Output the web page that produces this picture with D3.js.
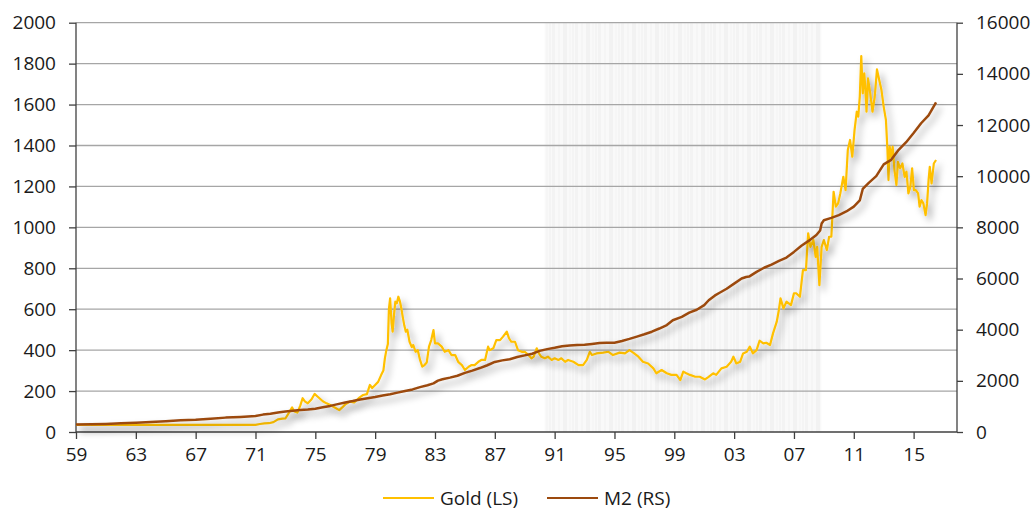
<!DOCTYPE html>
<html>
<head>
<meta charset="utf-8">
<script src="https://cdn.jsdelivr.net/npm/d3@7"></script>
<style>
  body { margin: 0; background: #fff; }
  text { font-family: "Open Sans", "DejaVu Sans", sans-serif; fill: #1a1a1a; }
</style>
</head>
<body>
<script>
// gold price, USD/oz (left scale) - [year, value]
var gold = [
  [1959.0, 35], [1971.0, 35], [1971.3, 39], [1971.6, 42], [1971.9, 43], [1972.2, 48], [1972.5, 62],
  [1972.8, 65], [1973.0, 66], [1973.2, 90], [1973.45, 120], [1973.6, 100], [1973.8, 95], [1974.0, 130],
  [1974.15, 165], [1974.3, 150], [1974.5, 140], [1974.75, 160], [1974.95, 186], [1975.2, 170],
  [1975.5, 150], [1975.75, 140], [1976.0, 132], [1976.3, 120], [1976.6, 107], [1976.8, 120],
  [1977.0, 135], [1977.3, 148], [1977.6, 145], [1977.9, 165], [1978.2, 181], [1978.45, 185],
  [1978.65, 230], [1978.8, 215], [1979.0, 230], [1979.2, 245], [1979.4, 278], [1979.55, 300],
  [1979.65, 360], [1979.75, 400], [1979.85, 430], [1979.92, 600], [1980.0, 653], [1980.1, 530],
  [1980.17, 490], [1980.27, 580], [1980.35, 637], [1980.45, 629], [1980.55, 661], [1980.65, 640],
  [1980.75, 605], [1980.85, 560], [1980.95, 520], [1981.05, 490], [1981.15, 500], [1981.3, 441],
  [1981.45, 415], [1981.55, 425], [1981.7, 392], [1981.85, 400], [1982.0, 352], [1982.15, 319],
  [1982.3, 327], [1982.45, 340], [1982.6, 417], [1982.75, 449], [1982.9, 498], [1983.0, 433],
  [1983.2, 433], [1983.45, 417], [1983.65, 392], [1983.9, 400], [1984.1, 376], [1984.35, 376],
  [1984.55, 343], [1984.8, 327], [1985.0, 303], [1985.25, 319], [1985.45, 327], [1985.65, 327],
  [1985.9, 343], [1986.1, 352], [1986.35, 352], [1986.55, 417], [1986.65, 400], [1986.9, 409],
  [1987.1, 449], [1987.35, 449], [1987.55, 466], [1987.8, 490], [1987.95, 458], [1988.1, 441],
  [1988.35, 441], [1988.55, 400], [1988.8, 392], [1989.0, 392], [1989.25, 376], [1989.45, 360],
  [1989.6, 368], [1989.8, 409], [1989.95, 384], [1990.1, 368], [1990.35, 360], [1990.55, 368],
  [1990.8, 352], [1991.0, 360], [1991.25, 352], [1991.45, 360], [1991.7, 343], [1991.9, 352],
  [1992.25, 343], [1992.6, 327], [1992.9, 327], [1993.15, 352], [1993.35, 392], [1993.5, 376],
  [1993.8, 384], [1994.25, 388], [1994.6, 392], [1994.9, 376], [1995.35, 388], [1995.7, 384],
  [1996.0, 400], [1996.25, 388], [1996.6, 368], [1996.9, 343], [1997.25, 335], [1997.6, 311],
  [1997.8, 287], [1998.15, 303], [1998.5, 287], [1998.8, 279], [1999.15, 279], [1999.4, 254],
  [1999.6, 295], [1999.8, 287], [2000.05, 279], [2000.4, 270], [2000.7, 270], [2001.05, 257],
  [2001.25, 267], [2001.6, 287], [2001.8, 279], [2002.15, 311], [2002.5, 319], [2002.8, 343],
  [2002.95, 368], [2003.15, 335], [2003.4, 343], [2003.6, 384], [2003.85, 392], [2004.05, 417],
  [2004.25, 384], [2004.5, 400], [2004.7, 446], [2004.95, 433], [2005.15, 436], [2005.4, 425],
  [2005.6, 482], [2005.85, 539], [2006.0, 600], [2006.1, 653], [2006.3, 604], [2006.5, 637],
  [2006.8, 620], [2007.0, 678], [2007.15, 678], [2007.4, 661], [2007.6, 791], [2007.8, 791],
  [2007.95, 971], [2008.1, 905], [2008.3, 938], [2008.45, 856], [2008.55, 905], [2008.7, 718],
  [2008.85, 905], [2009.0, 938], [2009.2, 889], [2009.35, 954], [2009.5, 954], [2009.65, 1174],
  [2009.8, 1101], [2009.95, 1117], [2010.1, 1166], [2010.3, 1247], [2010.45, 1182], [2010.6, 1378],
  [2010.75, 1427], [2010.9, 1345], [2011.05, 1475], [2011.2, 1565], [2011.3, 1541], [2011.4, 1638],
  [2011.5, 1837], [2011.6, 1655], [2011.7, 1752], [2011.78, 1671], [2011.85, 1565], [2011.95, 1728],
  [2012.1, 1655], [2012.25, 1565], [2012.4, 1638], [2012.55, 1772], [2012.7, 1720], [2012.85, 1671],
  [2013.0, 1589], [2013.15, 1524], [2013.25, 1378], [2013.32, 1231], [2013.4, 1394], [2013.5, 1345],
  [2013.6, 1394], [2013.72, 1280], [2013.85, 1207], [2013.95, 1320], [2014.1, 1288], [2014.25, 1312],
  [2014.4, 1247], [2014.52, 1272], [2014.65, 1166], [2014.78, 1198], [2014.9, 1288], [2015.02, 1182],
  [2015.15, 1182], [2015.3, 1166], [2015.4, 1101], [2015.52, 1133], [2015.65, 1117], [2015.8, 1060],
  [2015.9, 1117], [2016.0, 1231], [2016.08, 1296], [2016.2, 1215], [2016.35, 1312], [2016.5, 1329]
];

// M2 money stock, USD bn (right scale) - [year, value]
var m2 = [
  [1959.0, 290], [1960.0, 300], [1961.0, 313], [1962.0, 338], [1963.0, 365], [1964.0, 395],
  [1965.0, 425], [1966.0, 458], [1967.0, 478], [1968.0, 522], [1969.0, 562], [1970.0, 588],
  [1971.0, 625], [1971.5, 680], [1972.0, 712], [1972.5, 760], [1973.0, 800], [1973.5, 830],
  [1974.0, 858], [1974.5, 880], [1975.0, 910], [1975.5, 965], [1976.0, 1020], [1976.5, 1090],
  [1977.0, 1155], [1977.5, 1210], [1978.0, 1272], [1978.5, 1320], [1979.0, 1370], [1979.5, 1430],
  [1980.0, 1478], [1980.5, 1540], [1981.0, 1600], [1981.5, 1665], [1982.0, 1755], [1982.5, 1830],
  [1982.9, 1900], [1983.2, 2010], [1983.5, 2060], [1984.0, 2125], [1984.5, 2200], [1985.0, 2310],
  [1985.5, 2400], [1986.0, 2500], [1986.5, 2610], [1987.0, 2740], [1987.5, 2800], [1988.0, 2845],
  [1988.5, 2930], [1989.0, 2995], [1989.5, 3060], [1990.0, 3170], [1990.5, 3240], [1991.0, 3290],
  [1991.5, 3350], [1992.0, 3380], [1992.5, 3400], [1993.0, 3410], [1993.5, 3440], [1994.0, 3475],
  [1994.5, 3485], [1995.0, 3490], [1995.5, 3560], [1996.0, 3640], [1996.5, 3730], [1997.0, 3820],
  [1997.5, 3920], [1998.0, 4045], [1998.5, 4180], [1998.9, 4370], [1999.5, 4500], [2000.0, 4665],
  [2000.5, 4780], [2001.0, 4960], [2001.3, 5150], [2001.7, 5330], [2002.0, 5435], [2002.5, 5600],
  [2003.0, 5800], [2003.5, 6000], [2003.8, 6060], [2004.0, 6075], [2004.5, 6260], [2005.0, 6420],
  [2005.5, 6540], [2006.0, 6690], [2006.5, 6820], [2007.0, 7040], [2007.5, 7280], [2008.0, 7480],
  [2008.5, 7700], [2008.75, 7880], [2008.85, 8150], [2009.0, 8280], [2009.5, 8370], [2010.0, 8480],
  [2010.5, 8620], [2011.0, 8810], [2011.4, 9050], [2011.6, 9500], [2012.0, 9740], [2012.5, 10000],
  [2013.0, 10460], [2013.5, 10640], [2014.0, 11030], [2014.5, 11330], [2015.0, 11690],
  [2015.5, 12070], [2016.0, 12380], [2016.5, 12890]
];

var xTickYears = [1959, 1963, 1967, 1971, 1975, 1979, 1983, 1987, 1991, 1995, 1999, 2003, 2007, 2011, 2015];
var leftTicks = [0, 200, 400, 600, 800, 1000, 1200, 1400, 1600, 1800, 2000];
var rightTicks = [0, 2000, 4000, 6000, 8000, 10000, 12000, 14000, 16000];
var shadedPeriod = [1990.33, 2008.83];
var legendItems = ["Gold (LS)", "M2 (RS)"];

var goldColor = "#FFC000",
    m2Color = "#9C4A0E";

var width = 1036, height = 511;
var margin = { top: 22.7, right: 79, bottom: 79, left: 76 };

var svg = d3.select("body").append("svg")
    .attr("width", width)
    .attr("height", height);

var x = d3.scaleLinear().domain([1959, 2017.9]).range([margin.left, width - margin.right]);
var yL = d3.scaleLinear().domain([0, 2000]).range([height - margin.bottom, margin.top]);
var yR = d3.scaleLinear().domain([0, 16000]).range([height - margin.bottom, margin.top]);

var defs = svg.append("defs");

// faint striped shading
var pat = defs.append("pattern")
    .attr("id", "stripes")
    .attr("patternUnits", "userSpaceOnUse")
    .attr("width", 23).attr("height", 10);
pat.append("rect").attr("width", 23).attr("height", 10).attr("fill", "#f9f9f9");
[[0, 3, "#f3f3f3"], [6, 2, "#f5f5f5"], [11, 4, "#f2f2f2"], [17, 2, "#f6f6f6"], [20, 2, "#f4f4f4"]]
    .forEach(function (s) {
        pat.append("rect").attr("x", s[0]).attr("width", s[1]).attr("height", 10).attr("fill", s[2]);
    });

var shadow = defs.append("filter")
    .attr("id", "shadow")
    .attr("x", "-5%").attr("y", "-10%")
    .attr("width", "115%").attr("height", "130%");
shadow.append("feDropShadow")
    .attr("dx", 4).attr("dy", 5)
    .attr("stdDeviation", 3.5)
    .attr("flood-color", "#000")
    .attr("flood-opacity", 0.35);

svg.append("rect")
    .attr("x", x(shadedPeriod[0]))
    .attr("y", margin.top)
    .attr("width", x(shadedPeriod[1]) - x(shadedPeriod[0]))
    .attr("height", yL(0) - margin.top)
    .attr("fill", "url(#stripes)");

// gridlines
svg.append("g")
    .selectAll("line")
    .data(leftTicks.slice(1))
    .enter().append("line")
    .attr("x1", x.range()[0])
    .attr("x2", x.range()[1])
    .attr("y1", function (d) { return yL(d); })
    .attr("y2", function (d) { return yL(d); })
    .attr("stroke", "#a6a6a6")
    .attr("stroke-width", 1.3);

// axes
var axisColor = "#404040";

var leftAxis = svg.append("g")
    .attr("transform", "translate(" + margin.left + ",0)")
    .call(d3.axisLeft(yL).tickValues(leftTicks).tickSize(7).tickPadding(13).tickFormat(d3.format("d")));

var rightAxis = svg.append("g")
    .attr("transform", "translate(" + (width - margin.right) + ",0)")
    .call(d3.axisRight(yR).tickValues(rightTicks).tickSize(6).tickPadding(13).tickFormat(d3.format("d")));

var bottomAxis = svg.append("g")
    .attr("transform", "translate(0," + yL(0) + ")")
    .call(d3.axisBottom(x).tickValues(xTickYears).tickSize(7).tickPadding(9)
        .tickFormat(function (d) { return String(d).slice(2); }));

[leftAxis, rightAxis, bottomAxis].forEach(function (a) {
    a.select(".domain").attr("stroke", axisColor).attr("stroke-width", 1.3);
    a.selectAll(".tick line").attr("stroke", axisColor).attr("stroke-width", 1.3);
    a.selectAll("text")
        .attr("font-family", "'Open Sans', 'DejaVu Sans', sans-serif")
        .attr("font-size", 19)
        .attr("fill", "#1a1a1a");
});
// remove outer tick caps
leftAxis.select(".domain").attr("d", "M0," + yL(2000) + "V" + yL(0));
rightAxis.select(".domain").attr("d", "M0," + yR(16000) + "V" + yR(0));
bottomAxis.select(".domain").attr("d", "M" + x.range()[0] + ",0H" + x.range()[1]);

// series
var goldLine = d3.line()
    .x(function (d) { return x(d[0]); })
    .y(function (d) { return yL(d[1]); });

var m2Line = d3.line()
    .x(function (d) { return x(d[0]); })
    .y(function (d) { return yR(d[1]); });

svg.append("path")
    .datum(gold)
    .attr("d", goldLine)
    .attr("fill", "none")
    .attr("stroke", goldColor)
    .attr("stroke-width", 2.2)
    .attr("stroke-linejoin", "round")
    .attr("filter", "url(#shadow)");

svg.append("path")
    .datum(m2)
    .attr("d", m2Line)
    .attr("fill", "none")
    .attr("stroke", m2Color)
    .attr("stroke-width", 2.5)
    .attr("stroke-linejoin", "round")
    .attr("filter", "url(#shadow)");

// legend
var legend = svg.append("g").attr("transform", "translate(383,498)");
var legendX = [0, 164];
var legendColors = [goldColor, m2Color];

legend.selectAll("line")
    .data(legendItems)
    .enter().append("line")
    .attr("x1", function (d, i) { return legendX[i]; })
    .attr("x2", function (d, i) { return legendX[i] + 51; })
    .attr("y1", 0).attr("y2", 0)
    .attr("stroke", function (d, i) { return legendColors[i]; })
    .attr("stroke-width", 2.2);

legend.selectAll("text")
    .data(legendItems)
    .enter().append("text")
    .attr("x", function (d, i) { return legendX[i] + 57; })
    .attr("y", 0)
    .attr("dy", "0.35em")
    .attr("font-size", 19)
    .text(function (d) { return d; });
</script>
</body>
</html>
